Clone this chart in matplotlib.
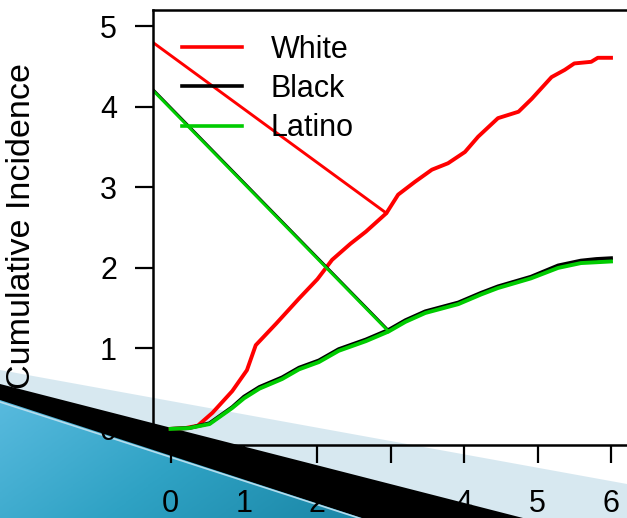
import numpy as np
import matplotlib
matplotlib.use("Agg")
import matplotlib.pyplot as plt
from matplotlib.patches import Polygon
from matplotlib.colors import LinearSegmentedColormap

plt.rcParams['font.family'] = ['Liberation Sans', 'DejaVu Sans']

# cumulative incidence curves (years since entry)
white_x = [0, 0.2, 0.37, 0.57, 0.84, 1.04, 1.16, 1.44, 1.75, 2.0, 2.2, 2.45, 2.66, 2.94,
           3.1, 3.33, 3.56, 3.78, 4.01, 4.19, 4.46, 4.74, 4.92, 5.19, 5.37, 5.5, 5.73, 5.82, 6.0]
white_y = [0, 0.01, 0.04, 0.2, 0.47, 0.73, 1.04, 1.31, 1.62, 1.86, 2.1, 2.3, 2.45, 2.68,
           2.91, 3.07, 3.22, 3.30, 3.44, 3.63, 3.86, 3.94, 4.1, 4.37, 4.46, 4.54, 4.56, 4.61, 4.61]

minor_x = [0, 0.25, 0.53, 0.84, 1.0, 1.21, 1.52, 1.75, 2.02, 2.29, 2.66, 2.97, 3.2, 3.47,
           3.92, 4.23, 4.46, 4.91, 5.28, 5.59, 5.8, 6.0]
black_y = [0, 0.01, 0.07, 0.27, 0.4, 0.52, 0.64, 0.76, 0.85, 0.99, 1.11, 1.23, 1.35, 1.46,
           1.57, 1.69, 1.77, 1.89, 2.03, 2.09, 2.11, 2.12]
latino_y = [0, 0.01, 0.06, 0.26, 0.38, 0.5, 0.62, 0.74, 0.83, 0.97, 1.09, 1.21, 1.33, 1.44,
            1.55, 1.67, 1.75, 1.87, 2.0, 2.06, 2.07, 2.08]

# stray connecting segments that run off the left edge
white_link_x, white_link_y = [-0.3, 2.94], [4.84, 2.68]
black_link_x, black_link_y = [-0.3, 2.97], [4.27, 1.22]
latino_link_x, latino_link_y = [-0.3, 2.97], [4.26, 1.21]

labels = ["White", "Black", "Latino"]
colors = ["#ff0000", "#000000", "#00cc00"]
x_ticks = [0, 1, 2, 3, 4, 5, 6]
y_ticks = [0, 1, 2, 3, 4, 5]

W, H = 627, 518
fig = plt.figure(figsize=(W / 100, H / 100), dpi=100)
fig.patch.set_facecolor("white")

# slide decoration behind the plot (pixel coords, y down)
bg = fig.add_axes([0, 0, 1, 1], zorder=0)
bg.axis("off")
bg.add_patch(Polygon([(0, 370), (W, 484), (W, H), (0, H)], closed=True,
                     facecolor="#d7e8f0", edgecolor="none"))
bg.add_patch(Polygon([(0, 384), (523, H), (0, H)], closed=True,
                     facecolor="black", edgecolor="none"))
teal = Polygon([(0, 400), (365, H + 1), (0, H + 1)], closed=True,
               facecolor="none", edgecolor="none")
bg.add_patch(teal)
cmap = LinearSegmentedColormap.from_list("teal", ["#58bade", "#2fa2c4", "#1a86a6"])
gx, gy = np.meshgrid(np.linspace(0, 1, 200), np.linspace(0, 1, 100))
img = bg.imshow(gx * 0.7 + gy * 0.3, cmap=cmap, extent=(0, 365, H + 1, 400),
                aspect="auto", zorder=1)
img.set_clip_path(teal)
bg.plot([0, 365], [402, 520], color="#b5dced", lw=1.2, zorder=2)
bg.set_xlim(0, W)
bg.set_ylim(H, 0)

# main plot
ax = fig.add_axes([153 / W, 73 / H, 475.6 / W, 434.7 / H], zorder=1)
ax.patch.set_alpha(0)

ax.plot(white_x, white_y, color=colors[0], lw=2.8)
ax.plot(white_link_x, white_link_y, color=colors[0], lw=2.1)
ax.plot(minor_x, black_y, color=colors[1], lw=2.8)
ax.plot(black_link_x, black_link_y, color=colors[1], lw=2.1)
ax.plot(minor_x, latino_y, color=colors[2], lw=2.8)
ax.plot(latino_link_x, latino_link_y, color=colors[2], lw=2.1)

ax.set_xlim(-0.24, 6.24)
ax.set_ylim(-0.2, 5.2)
ax.set_xticks(x_ticks)
ax.set_yticks(y_ticks)
ax.tick_params(axis="both", labelsize=22, width=1.6, length=13, direction="out")
ax.tick_params(axis="x", pad=19)
ax.tick_params(axis="y", pad=13)
for side in ["top", "left", "bottom"]:
    ax.spines[side].set_linewidth(1.8)
ax.spines["right"].set_visible(False)

fig.text(22 / W, 1 - 226 / H, "Cumulative Incidence", rotation=90,
         ha="center", va="center", fontsize=24.5)

handles = [plt.Line2D([], [], color=c, lw=2.6) for c in colors]
ax.legend(handles, labels, loc="upper left", frameon=False, fontsize=22,
          bbox_to_anchor=(182 / W, 1 - 35 / H), bbox_transform=fig.transFigure,
          borderpad=0, borderaxespad=0, handlelength=1.95, handletextpad=0.95,
          labelspacing=0.3)

fig.savefig("out.png", dpi=100)
